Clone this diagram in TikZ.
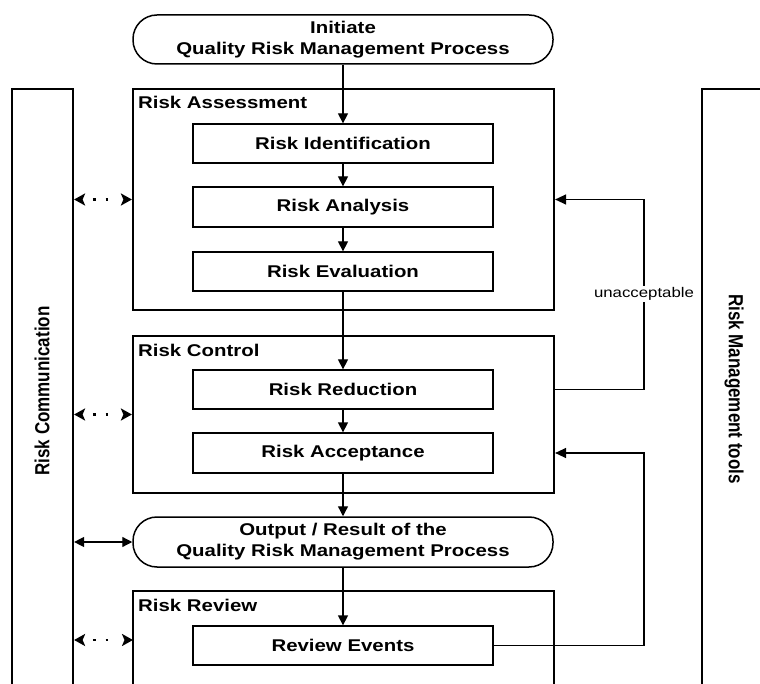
\documentclass[tikz,border=0pt]{standalone}
\usepackage{fontspec}
\setmainfont{Liberation Sans}[FakeStretch=1.2]
\newfontfamily\rotfont{Liberation Sans}
\usetikzlibrary{arrows.meta}
\newcommand\lblfont{\bfseries\fontsize{17}{21}\selectfont}
\begin{document}
\begin{tikzpicture}[x=1pt,y=-1pt,
  outer/.style={draw, line width=2.2pt, inner sep=0pt},
  innerbox/.style={draw, line width=1.3pt, minimum width=300pt, minimum height=39pt, inner sep=0pt, font=\lblfont},
  pill/.style={draw, line width=1.5pt, rounded corners=24pt, minimum width=420pt, minimum height=49pt, inner sep=0pt, align=center, font=\lblfont},
  boxtitle/.style={anchor=base west, inner sep=0pt, font=\lblfont},
  rottext/.style={inner sep=0pt, font=\rotfont\bfseries\fontsize{17}{21}\selectfont},
  flow/.style={line width=1.3pt, -{Triangle[length=10pt,width=10pt]}},
  fb/.style={line width=1.3pt, -{Triangle[length=11pt,width=10pt]}},
  both/.style={line width=1.3pt, {Triangle[length=10pt,width=10pt]}-{Triangle[length=10pt,width=10pt]}},
  dotarrow/.style={line width=2.6pt, dash pattern=on 0pt off 11pt on 2.6pt off 10pt on 2.6pt off 40pt,
     {Stealth[length=11pt,width=12pt,inset=2.5pt]}-{Stealth[length=11pt,width=12pt,inset=2.5pt]}},
]
\useasboundingbox (0,0) rectangle (760,684);
\clip (0,0) rectangle (760,684);

% side bars
\node[outer, minimum width=61pt, minimum height=631pt] (comm) at (42.5,404.5) {};
\node[outer, minimum width=98pt, minimum height=631pt] (tools) at (751,404.5) {};
\node[rottext, rotate=90] (commtxt) at (42,391) {\scalebox{1}[1.2]{Risk Communication}};
\node[rottext, rotate=-90] (toolstxt) at (734,389) {\scalebox{1}[1.2]{Risk Management tools}};

% main pills
\node[pill] (init) at (343,39.5) {Initiate\\Quality Risk Management Process};
\node[pill, minimum height=50pt] (out) at (343,542) {Output / Result of the\\Quality Risk Management Process};

% group boxes
\node[outer, minimum width=421pt, minimum height=221pt] (ra) at (343.5,199.5) {};
\node[outer, minimum width=421pt, minimum height=157pt] (rc) at (343.5,414.5) {};
\node[outer, minimum width=421pt, minimum height=129pt] (rrev) at (343.5,655.5) {};
\node[boxtitle] (ratitle) at (138,109) {Risk Assessment};
\node[boxtitle] (rctitle) at (138,356) {Risk Control};
\node[boxtitle] (rrevtitle) at (138,611) {Risk Review};

% inner steps
\node[innerbox] (ri) at (343,143.5) {Risk Identification};
\node[innerbox, minimum height=40pt] (ran) at (343,207) {Risk Analysis};
\node[innerbox] (re) at (343,271.5) {Risk Evaluation};
\node[innerbox] (rred) at (343,389.5) {Risk Reduction};
\node[innerbox, minimum height=40pt] (racc) at (343,453) {Risk Acceptance};
\node[innerbox] (ev) at (343,645.5) {Review Events};

% main flow
\draw[flow] (init) -- (ri);
\draw[flow] (ri) -- (ran);
\draw[flow] (ran) -- (re);
\draw[flow] (re) -- (rred);
\draw[flow] (rred) -- (racc);
\draw[flow] (racc) -- (out);
\draw[flow] (out) -- (ev);

% feedback loops
\coordinate (fbx) at (644,0);
\draw[fb] (rc.east |- rred.east) -| (fbx |- ra.east) -- (ra.east);
\node[fill=white, inner sep=1pt, font=\fontsize{14}{16}\selectfont] (unacc) at (644,294) {unacceptable};
\draw[fb] (ev.east) -| (fbx |- racc.east) -- (rc.east |- racc.east);

% communication arrows
\coordinate (rrevin) at (133,640);
\draw[dotarrow] (comm.east |- ra.west) -- (ra.west);
\draw[dotarrow] (comm.east |- rc.west) -- (rc.west);
\draw[both] (comm.east |- out.west) -- (out.west);
\draw[dotarrow] (comm.east |- rrevin) -- (rrevin);
\end{tikzpicture}
\end{document}
